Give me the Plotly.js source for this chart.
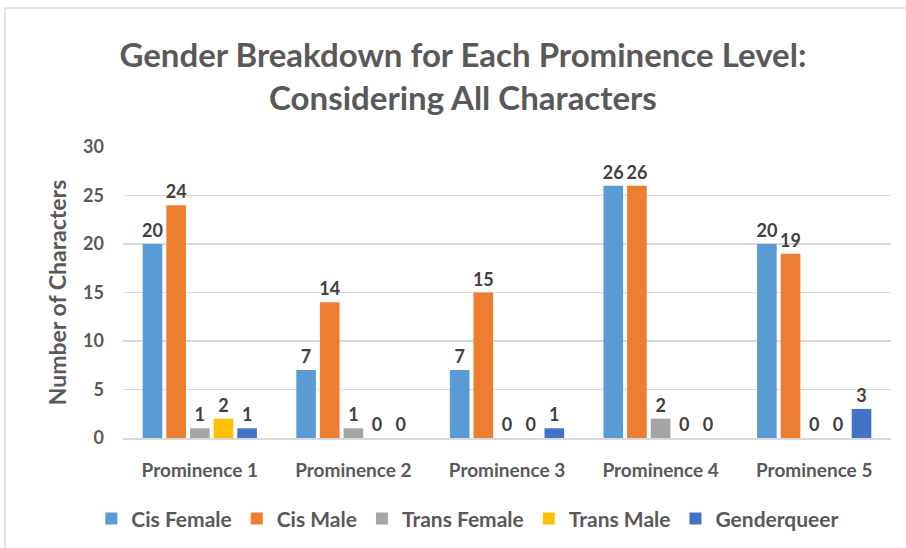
<!DOCTYPE html>
<html>
<head>
<meta charset="utf-8">
<script src="https://cdn.plot.ly/plotly-3.0.1.min.js"></script>
<style>html,body{margin:0;padding:0;background:#fff;}#chart{width:906px;height:548px;}</style>
</head>
<body>
<div id="chart"></div>
<script>
const categories = ["Prominence 1", "Prominence 2", "Prominence 3", "Prominence 4", "Prominence 5"];
const seriesNames = ["Cis Female", "Cis Male", "Trans Female", "Trans Male", "Genderqueer"];
const cisFemale = [20, 7, 7, 26, 20];
const cisMale = [24, 14, 15, 26, 19];
const transFemale = [1, 1, 0, 2, 0];
const transMale = [2, 0, 0, 0, 0];
const genderqueer = [1, 0, 1, 0, 3];
const yTicks = [0, 5, 10, 15, 20, 25, 30];
const colors = ["#5B9BD5", "#ED7D31", "#A5A5A5", "#FFC000", "#4472C4"];

const allSeries = [cisFemale, cisMale, transFemale, transMale, genderqueer];
const FONT = "Lato, 'Open Sans', sans-serif";

const traces = allSeries.map((vals, i) => ({
  type: "bar",
  name: seriesNames[i],
  x: categories,
  y: vals,
  marker: {color: colors[i]},
  text: vals.map(String),
  textposition: "outside",
  constraintext: "none",
  cliponaxis: false,
  textfont: {family: FONT, size: 18, color: "#404040", weight: "bold"},
  hoverinfo: "x+y+name"
}));

const layout = {
  width: 906,
  height: 548,
  margin: {l: 123, r: 15, t: 147, b: 110, autoexpand: false},
  paper_bgcolor: "#ffffff",
  plot_bgcolor: "#ffffff",
  font: {family: FONT, color: "#595959"},
  title: {
    text: "<b>Gender Breakdown for Each Prominence Level:<br>Considering All Characters</b>",
    font: {family: FONT, size: 33, color: "#595959"},
    x: 0.511, xref: "container", xanchor: "center",
    y: 0.878, yref: "container", yanchor: "middle"
  },
  barmode: "group",
  bargap: 0.23,
  bargroupgap: 0.17,
  xaxis: {
    type: "category",
    automargin: false,
    tickfont: {family: FONT, size: 19, color: "#595959", weight: "bold"},
    showline: true, linecolor: "#d9d9d9", linewidth: 1.5,
    ticks: "", showgrid: false, fixedrange: true,
    ticklabelstandoff: 15
  },
  yaxis: {
    range: [0, 30],
    automargin: false,
    tickvals: yTicks,
    ticktext: yTicks.map(String),
    tickfont: {family: FONT, size: 18, color: "#595959", weight: "bold"},
    showgrid: true, gridcolor: "#d9d9d9", gridwidth: 1.5,
    zeroline: false, showline: false, ticks: "",
    ticklen: 0, ticklabelstandoff: 18,
    title: {text: "<b>Number of Characters</b>", font: {family: FONT, size: 23, color: "#595959"}, standoff: 10},
    fixedrange: true
  },
  legend: {
    orientation: "h",
    x: 0.449, xanchor: "center",
    y: -0.278, yanchor: "middle",
    font: {family: FONT, size: 21, color: "#595959", weight: "bold"},
    itemwidth: 30,
    traceorder: "normal"
  },
  showlegend: true,
  shapes: [{
    type: "rect", xref: "paper", yref: "paper",
    x0: -0.1536, x1: 1.2, y0: -0.6, y1: 1.478,
    line: {color: "#d9d9d9", width: 1.5},
    fillcolor: "rgba(0,0,0,0)", layer: "below"
  }]
};

Plotly.newPlot("chart", traces, layout, {displayModeBar: false, staticPlot: true});
</script>
</body>
</html>
